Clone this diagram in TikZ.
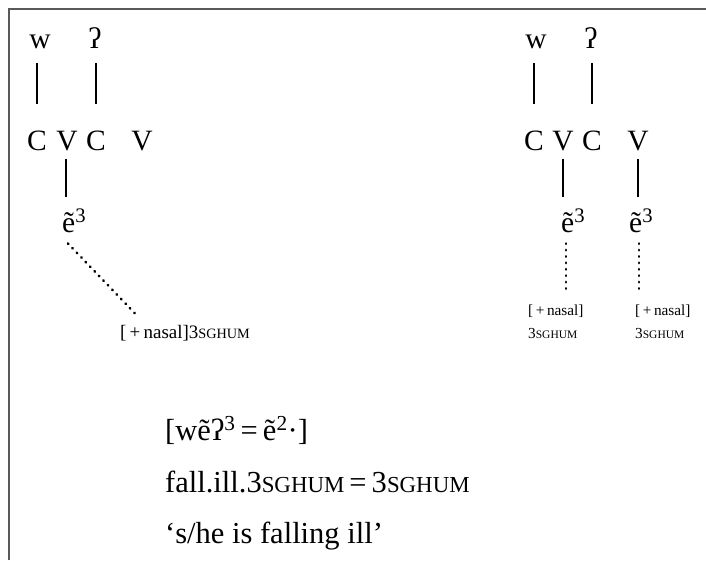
\documentclass[tikz,border=0pt]{standalone}
\usepackage{fontspec}
\setmainfont{Liberation Serif}
\usetikzlibrary{calc}
% faked small capitals for glosses
\newcommand\smcap[1]{\scalebox{0.75}{#1}}
\begin{document}
\begin{tikzpicture}[x=1pt,y=-1pt,
  seg/.style={font=\fontsize{29.5}{29.5}\selectfont, inner sep=0pt, anchor=base},
  tone/.style={font=\fontsize{29.5}{29.5}\selectfont, inner sep=0pt, anchor=base west},
  feat/.style={font=\fontsize{19}{19}\selectfont, inner sep=0pt, anchor=base west},
  featsm/.style={font=\fontsize{15.3}{15.3}\selectfont, inner sep=0pt, anchor=base west},
  gloss/.style={font=\fontsize{30.5}{30.5}\selectfont, inner sep=0pt, anchor=base west},
  assoc/.style={line width=2.6pt},
  dotline/.style={line width=2.8pt, line cap=round, dash pattern=on 0.4pt off 6pt},
  frame/.style={draw=black!65, line width=2pt}]
\useasboundingbox (0,0) rectangle (706,560);
\draw[frame] (9,560) -- (9,9) -- (706,9);

% ---- left representation ----
\node[seg] (lw) at (40,48) {w};
\node[seg] (lq) at (95,48) {ʔ};
\node[seg] (lc1) at (37,150) {C};
\node[seg] (lv1) at (67,150) {V};
\node[seg] (lc2) at (96,150) {C};
\node[seg] (lv2) at (142,150) {V};
\node[tone] (le) at (62,232) {ẽ\textsuperscript{3}};
\node[feat] (lf) at (120,338) {[\,+\,nasal]3\smcap{SGHUM}};

\draw[assoc, shorten <=15pt, shorten >=26pt] (lw.south -| lc1) -- (lc1.north);
\draw[assoc, shorten <=15pt, shorten >=26pt] (lq.south -| lc2) -- (lc2.north);
\draw[assoc, shorten <=8pt, shorten >=12pt] ([xshift=-1pt]lv1.south) -- ([xshift=-1pt]lv1.south |- le.north);
\draw[dotline] ($(le.south west)+(6,11)$) -- ($(lf.north west)+(18,-8)$);

% ---- right representation ----
\node[seg] (rw) at (536,48) {w};
\node[seg] (rq) at (591,48) {ʔ};
\node[seg] (rc1) at (534,150) {C};
\node[seg] (rv1) at (563,150) {V};
\node[seg] (rc2) at (592,150) {C};
\node[seg] (rv2) at (638,150) {V};
\node[tone] (re1) at (561,232) {ẽ\textsuperscript{3}};
\node[tone] (re2) at (629,232) {ẽ\textsuperscript{3}};
\node[featsm] (rf1) at (528,315) {[\,+\,nasal]};
\node[featsm] (rg1) at (528,338) {3\smcap{SGHUM}};
\node[featsm] (rf2) at (635,315) {[\,+\,nasal]};
\node[featsm] (rg2) at (635,338) {3\smcap{SGHUM}};

\draw[assoc, shorten <=8pt, shorten >=12pt] (rv1.south) -- (rv1.south |- re1.north);
\draw[assoc, shorten <=8pt, shorten >=12pt] (rv2.south) -- (rv2.south |- re2.north);
\draw[assoc, shorten <=15pt, shorten >=26pt] (rw.south -| rc1) -- (rc1.north);
\draw[assoc, shorten <=15pt, shorten >=26pt] (rq.south -| rc2) -- (rc2.north);
\draw[dotline, shorten <=11pt] ([xshift=3pt]rv1.south |- re1.south) -- ($(rv1.south |- rf1.north)+(3,-10)$);
\draw[dotline, shorten <=11pt] ([xshift=1pt]rv2.south |- re2.south) -- ($(rv2.south |- rf2.north)+(1,-10)$);

% ---- transcription and gloss ----
\node[gloss] (ipa) at (165,440) {[wẽʔ\textsuperscript{3}\,=\,ẽ\textsuperscript{2}·]};
\node[gloss] (gl) at (165,492) {fall.ill.3\smcap{SGHUM}\,=\,3\smcap{SGHUM}};
\node[gloss] (tr) at (165,543) {‘s/he is falling ill’};
\end{tikzpicture}
\end{document}
